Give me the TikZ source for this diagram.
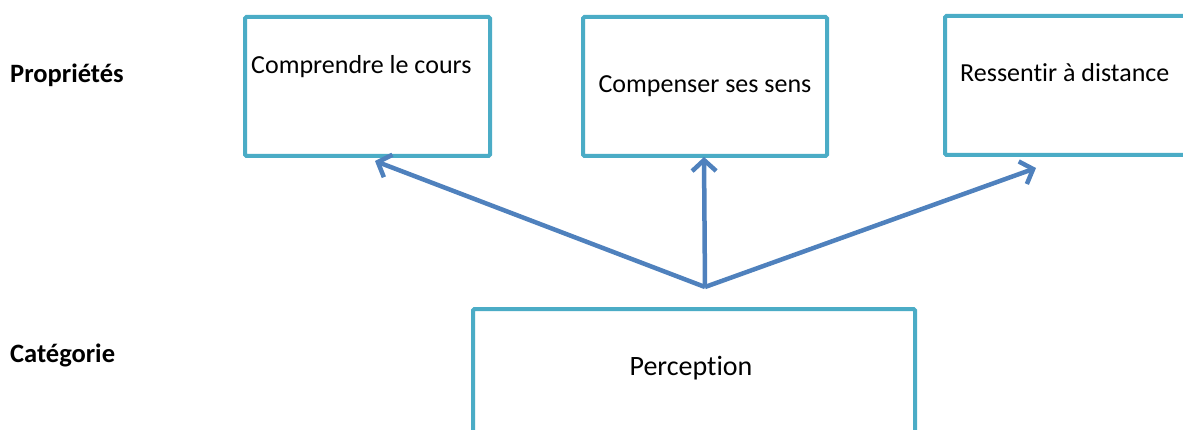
\documentclass[tikz,border=0pt]{standalone}
\usepackage{fontspec}
\setmainfont{Carlito}[Ligatures={NoCommon}]
\usetikzlibrary{arrows.meta}
\definecolor{boxc}{HTML}{4BACC6}
\definecolor{arrc}{HTML}{4F81BD}
\begin{document}
\begin{tikzpicture}[x=1pt,y=-1pt,
  box/.style={draw=boxc,line width=4pt,rounded corners=1.5pt,fill=white,inner sep=0pt},
  txt/.style={inner sep=0pt,font=\fontsize{26}{30}\selectfont,text=black},
  lbl/.style={inner sep=0pt,anchor=base west,font=\fontsize{26.5}{30}\selectfont\bfseries,text=black},
  arr/.style={draw=arrc,line width=4.5pt,-{Straight Barb[length=11pt,width=24pt,line width=4.5pt]}}]
\useasboundingbox (0,0) rectangle (1183,430);
\clip (0,0) rectangle (1183,430);
% boxes
\node[box,minimum width=245pt,minimum height=139pt,anchor=north west] (b1) at (243,15) {};
\node[box,minimum width=244pt,minimum height=139pt,anchor=north west] (b2) at (581,15) {};
\node[box,minimum width=280pt,minimum height=139pt,anchor=north west] (b3) at (943,14) {};
\node[box,minimum width=442pt,minimum height=160pt,anchor=north west] (b4) at (471,307) {};
% texts
\node[txt,anchor=base west] (t1) at (251,74) {Comprendre le cours};
\node[txt,anchor=base] (t2) at (705,93) {Compenser ses sens};
\node[txt,anchor=base west] (t3) at (960,82) {Ressentir à distance};
\node[txt,anchor=base,font=\fontsize{28}{32}\selectfont] (t4) at (691,375) {Perception};
\node[lbl] (l1) at (10,83) {Propriétés};
\node[lbl] (l2) at (10,362) {Catégorie};
% connectors
\coordinate (hub) at (705,287);
\coordinate (e1) at (375,161);
\coordinate (e2) at (704,157);
\coordinate (e3) at (1036,168);
\draw[arr] (hub) -- (e1);
\draw[arr] (hub) -- (e2);
\draw[arr] (hub) -- (e3);
\end{tikzpicture}
\end{document}
